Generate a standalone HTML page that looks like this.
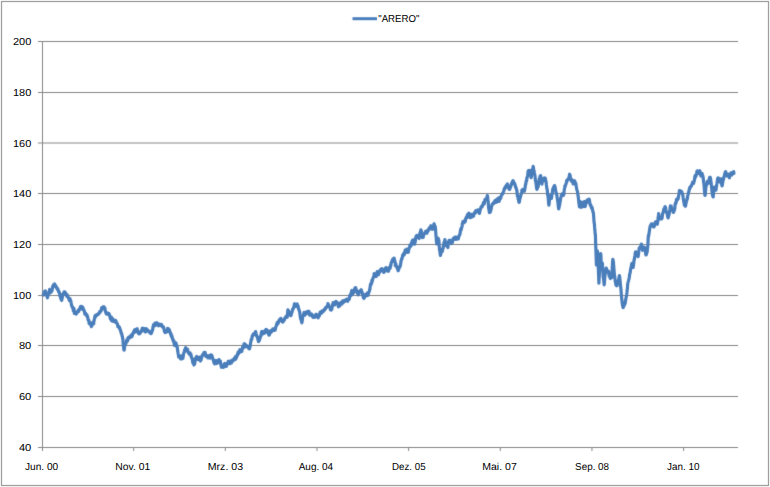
<!DOCTYPE html>
<html><head><meta charset="utf-8"><style>
html,body{margin:0;padding:0;background:#fff;}
body{width:770px;height:487px;overflow:hidden;}
svg{display:block;}
text{font-family:"Liberation Sans",Arial,sans-serif;font-size:10.1px;fill:#000;text-rendering:geometricPrecision;}
</style></head><body>
<svg width="770" height="487" viewBox="0 0 770 487">
<defs><filter id="bl" x="0" y="0" width="770" height="487" filterUnits="userSpaceOnUse" color-interpolation-filters="sRGB"><feConvolveMatrix order="3" kernelMatrix="0.0113 0.0838 0.0113 0.0838 0.6194 0.0838 0.0113 0.0838 0.0113" edgeMode="none" preserveAlpha="false"/></filter></defs>
<rect x="0" y="0" width="770" height="487" fill="#fff"/>
<g filter="url(#bl)">
<rect x="1.5" y="1.5" width="767" height="484" fill="none" stroke="#868686" stroke-width="1"/>
<g stroke="#868686" stroke-width="1" fill="none">
<line x1="38" y1="41.5" x2="738" y2="41.5"/>
<line x1="38" y1="92.5" x2="738" y2="92.5"/>
<line x1="38" y1="143.0" x2="738" y2="143.0"/>
<line x1="38" y1="193.5" x2="738" y2="193.5"/>
<line x1="38" y1="244.5" x2="738" y2="244.5"/>
<line x1="38" y1="295.5" x2="738" y2="295.5"/>
<line x1="38" y1="345.5" x2="738" y2="345.5"/>
<line x1="38" y1="396.5" x2="738" y2="396.5"/>
<line x1="38" y1="447.5" x2="738" y2="447.5"/>
<line x1="42.5" y1="41" x2="42.5" y2="451"/>
<line x1="133.66" y1="447" x2="133.66" y2="451"/>
<line x1="225.32" y1="447" x2="225.32" y2="451"/>
<line x1="316.98" y1="447" x2="316.98" y2="451"/>
<line x1="408.64" y1="447" x2="408.64" y2="451"/>
<line x1="500.30" y1="447" x2="500.30" y2="451"/>
<line x1="591.96" y1="447" x2="591.96" y2="451"/>
<line x1="683.62" y1="447" x2="683.62" y2="451"/>
</g>
</g>
<g>
<text x="31.30" y="45.3" text-anchor="end" textLength="18.3" lengthAdjust="spacingAndGlyphs">200</text>
<text x="31.30" y="96.3" text-anchor="end" textLength="18.3" lengthAdjust="spacingAndGlyphs">180</text>
<text x="31.30" y="146.8" text-anchor="end" textLength="18.3" lengthAdjust="spacingAndGlyphs">160</text>
<text x="31.30" y="197.3" text-anchor="end" textLength="18.3" lengthAdjust="spacingAndGlyphs">140</text>
<text x="31.30" y="248.3" text-anchor="end" textLength="18.3" lengthAdjust="spacingAndGlyphs">120</text>
<text x="31.30" y="299.3" text-anchor="end" textLength="18.3" lengthAdjust="spacingAndGlyphs">100</text>
<text x="31.30" y="349.3" text-anchor="end" textLength="12.4" lengthAdjust="spacingAndGlyphs">80</text>
<text x="31.30" y="400.3" text-anchor="end" textLength="12.4" lengthAdjust="spacingAndGlyphs">60</text>
<text x="31.30" y="451.3" text-anchor="end" textLength="12.4" lengthAdjust="spacingAndGlyphs">40</text>
<text x="41.6" y="469.7" text-anchor="middle" textLength="33.2" lengthAdjust="spacingAndGlyphs">Jun. 00</text>
<text x="132.8" y="469.7" text-anchor="middle" textLength="34.9" lengthAdjust="spacingAndGlyphs">Nov. 01</text>
<text x="225.4" y="469.7" text-anchor="middle" textLength="35.3" lengthAdjust="spacingAndGlyphs">Mrz. 03</text>
<text x="315.9" y="469.7" text-anchor="middle" textLength="34.4" lengthAdjust="spacingAndGlyphs">Aug. 04</text>
<text x="408.8" y="469.7" text-anchor="middle" textLength="33.5" lengthAdjust="spacingAndGlyphs">Dez. 05</text>
<text x="499.5" y="469.7" text-anchor="middle" textLength="34.5" lengthAdjust="spacingAndGlyphs">Mai. 07</text>
<text x="592.1" y="469.7" text-anchor="middle" textLength="34.0" lengthAdjust="spacingAndGlyphs">Sep. 08</text>
<text x="683.2" y="469.7" text-anchor="middle" textLength="32.4" lengthAdjust="spacingAndGlyphs">Jan. 10</text>
<text x="378.30" y="21.9" textLength="41.0" lengthAdjust="spacingAndGlyphs">"ARERO"</text>
</g>
<g filter="url(#bl)">
<line x1="352.5" y1="18.7" x2="377" y2="18.7" stroke="#4A7EBB" stroke-width="3"/>
<polyline points="43.40,295.0 43.65,294.9 43.90,294.1 44.15,291.9 44.40,292.4 44.65,292.2 44.90,291.1 45.15,291.3 45.40,291.0 45.65,291.5 45.90,292.2 46.15,293.5 46.40,293.6 46.65,294.7 46.90,295.6 47.15,296.9 47.40,297.8 47.65,297.0 47.90,295.9 48.15,295.0 48.40,294.4 48.65,293.5 48.90,294.0 49.15,293.6 49.40,290.4 49.65,289.4 49.90,290.2 50.15,290.3 50.40,290.7 50.65,290.8 50.90,292.3 51.15,290.3 51.40,289.8 51.65,291.4 51.90,290.7 52.15,290.0 52.40,288.5 52.65,286.5 52.90,286.8 53.15,286.6 53.40,285.1 53.65,284.7 53.90,284.8 54.15,284.3 54.40,284.0 54.65,284.1 54.90,284.6 55.15,284.7 55.40,285.7 55.65,286.8 55.90,287.0 56.15,286.4 56.40,287.6 56.65,287.4 56.90,288.7 57.15,287.9 57.40,289.5 57.65,289.8 57.90,289.3 58.15,290.0 58.40,291.0 58.65,291.9 58.90,291.7 59.15,291.8 59.40,293.3 59.65,293.9 59.90,295.2 60.15,296.7 60.40,295.8 60.65,297.3 60.90,299.0 61.15,299.2 61.40,299.8 61.65,300.3 61.90,299.2 62.15,298.4 62.40,296.8 62.65,294.3 62.90,293.9 63.15,293.7 63.40,294.4 63.65,294.2 63.90,292.4 64.15,291.8 64.40,293.0 64.65,293.4 64.90,292.3 65.15,292.2 65.40,292.7 65.65,293.5 65.90,294.4 66.15,294.7 66.40,294.8 66.65,294.9 66.90,296.4 67.15,294.6 67.40,295.7 67.65,296.7 67.90,296.1 68.15,297.3 68.40,297.3 68.65,298.7 68.90,298.7 69.15,299.5 69.40,300.5 69.65,300.5 69.90,299.6 70.15,298.8 70.40,301.2 70.65,301.0 70.90,301.1 71.15,303.0 71.40,304.4 71.65,305.8 71.90,306.2 72.15,306.7 72.40,306.7 72.65,308.0 72.90,307.7 73.15,309.3 73.40,311.0 73.65,309.6 73.90,308.4 74.15,310.6 74.40,313.5 74.65,312.3 74.90,311.8 75.15,313.3 75.40,313.1 75.65,313.5 75.90,313.5 76.15,314.1 76.40,313.4 76.65,313.6 76.90,313.1 77.15,312.3 77.40,312.1 77.65,311.4 77.90,311.7 78.15,310.9 78.40,310.1 78.65,311.4 78.90,310.6 79.15,309.9 79.40,309.8 79.65,308.6 79.90,308.0 80.15,307.8 80.40,307.2 80.65,306.5 80.90,306.7 81.15,306.8 81.40,306.5 81.65,306.4 81.90,306.9 82.15,309.1 82.40,308.0 82.65,308.7 82.90,307.3 83.15,308.5 83.40,310.0 83.65,310.0 83.90,309.9 84.15,310.8 84.40,311.8 84.65,312.5 84.90,314.2 85.15,313.8 85.40,313.1 85.65,313.4 85.90,313.8 86.15,314.4 86.40,314.9 86.65,315.6 86.90,314.8 87.15,316.7 87.40,316.8 87.65,316.7 87.90,318.4 88.15,320.1 88.40,320.6 88.65,320.8 88.90,320.4 89.15,323.6 89.40,323.8 89.65,322.5 89.90,322.5 90.15,323.4 90.40,322.8 90.65,324.3 90.90,325.0 91.15,326.2 91.40,326.6 91.65,326.1 91.90,325.4 92.15,324.1 92.40,324.6 92.65,324.2 92.90,324.0 93.15,322.2 93.40,323.5 93.65,323.9 93.90,321.0 94.15,320.4 94.40,318.8 94.65,318.1 94.90,316.3 95.15,317.5 95.40,315.4 95.65,315.4 95.90,316.0 96.15,315.4 96.40,315.5 96.65,315.3 96.90,315.4 97.15,314.4 97.40,314.3 97.65,314.3 97.90,314.0 98.15,314.0 98.40,313.6 98.65,314.1 98.90,313.4 99.15,313.1 99.40,312.5 99.65,312.2 99.90,311.3 100.15,312.3 100.40,311.3 100.65,310.8 100.90,311.1 101.15,310.9 101.40,309.9 101.65,307.8 101.90,308.6 102.15,308.8 102.40,307.4 102.65,308.4 102.90,307.5 103.15,306.8 103.40,307.6 103.65,307.8 103.90,308.2 104.15,306.9 104.40,309.2 104.65,308.5 104.90,308.1 105.15,310.2 105.40,310.8 105.65,312.1 105.90,312.7 106.15,313.4 106.40,313.8 106.65,313.2 106.90,314.1 107.15,313.6 107.40,313.1 107.65,313.6 107.90,314.2 108.15,314.0 108.40,313.4 108.65,314.5 108.90,313.5 109.15,314.0 109.40,315.4 109.65,315.2 109.90,316.6 110.15,317.5 110.40,319.0 110.65,318.2 110.90,318.1 111.15,318.9 111.40,317.1 111.65,320.9 111.90,319.8 112.15,319.3 112.40,320.4 112.65,320.3 112.90,318.9 113.15,320.3 113.40,321.3 113.65,320.8 113.90,320.8 114.15,321.5 114.40,320.8 114.65,321.6 114.90,321.9 115.15,321.3 115.40,320.4 115.65,321.0 115.90,320.8 116.15,322.3 116.40,322.4 116.65,323.1 116.90,323.4 117.15,324.0 117.40,323.7 117.65,325.1 117.90,326.9 118.15,326.5 118.40,326.3 118.65,326.6 118.90,326.6 119.15,326.7 119.40,327.5 119.65,327.8 119.90,329.5 120.15,329.3 120.40,329.9 120.65,331.3 120.90,331.4 121.15,333.4 121.40,333.1 121.65,333.5 121.90,334.7 122.15,336.2 122.40,336.5 122.65,338.4 122.90,339.5 123.15,343.7 123.40,345.7 123.65,347.7 123.90,350.0 124.15,350.1 124.40,348.6 124.65,346.7 124.90,344.8 125.15,343.9 125.40,343.1 125.65,343.7 125.90,343.8 126.15,342.6 126.40,342.1 126.65,340.1 126.90,340.4 127.15,339.9 127.40,340.0 127.65,340.9 127.90,338.0 128.15,338.6 128.40,337.6 128.65,338.4 128.90,337.1 129.15,337.0 129.40,337.4 129.65,337.8 129.90,337.5 130.15,336.6 130.40,336.2 130.65,337.1 130.90,336.7 131.15,335.0 131.40,336.2 131.65,336.3 131.90,336.7 132.15,335.5 132.40,335.6 132.65,333.7 132.90,333.9 133.15,332.8 133.40,332.9 133.65,333.0 133.90,331.3 134.15,330.7 134.40,330.2 134.65,331.1 134.90,331.2 135.15,329.6 135.40,330.1 135.65,330.6 135.90,331.9 136.15,329.4 136.40,329.1 136.65,330.5 136.90,328.9 137.15,328.7 137.40,330.2 137.65,331.6 137.90,331.1 138.15,332.1 138.40,332.5 138.65,333.6 138.90,333.4 139.15,333.8 139.40,333.9 139.65,333.4 139.90,332.9 140.15,333.2 140.40,333.1 140.65,331.6 140.90,331.8 141.15,331.8 141.40,330.9 141.65,330.3 141.90,329.9 142.15,328.4 142.40,329.0 142.65,329.2 142.90,328.3 143.15,329.3 143.40,328.3 143.65,328.5 143.90,328.8 144.15,331.0 144.40,329.3 144.65,330.3 144.90,331.2 145.15,331.3 145.40,332.1 145.65,330.6 145.90,328.7 146.15,330.3 146.40,329.4 146.65,329.7 146.90,329.1 147.15,330.6 147.40,331.1 147.65,330.1 147.90,330.9 148.15,330.8 148.40,330.7 148.65,330.9 148.90,331.0 149.15,331.8 149.40,332.1 149.65,331.8 149.90,332.9 150.15,332.2 150.40,332.8 150.65,332.8 150.90,333.6 151.15,332.2 151.40,333.2 151.65,332.4 151.90,331.5 152.15,330.5 152.40,330.7 152.65,329.6 152.90,327.7 153.15,326.2 153.40,325.4 153.65,324.6 153.90,325.5 154.15,326.0 154.40,325.5 154.65,324.6 154.90,323.2 155.15,323.1 155.40,323.8 155.65,325.3 155.90,325.0 156.15,323.9 156.40,323.7 156.65,323.2 156.90,322.8 157.15,323.1 157.40,323.5 157.65,325.1 157.90,324.4 158.15,325.1 158.40,325.8 158.65,324.8 158.90,325.5 159.15,325.1 159.40,324.1 159.65,324.4 159.90,324.4 160.15,324.4 160.40,324.5 160.65,325.0 160.90,325.6 161.15,324.9 161.40,325.4 161.65,324.5 161.90,325.6 162.15,326.5 162.40,326.7 162.65,326.9 162.90,327.4 163.15,326.7 163.40,326.8 163.65,327.6 163.90,328.9 164.15,329.3 164.40,331.6 164.65,330.8 164.90,331.6 165.15,332.5 165.40,332.1 165.65,331.7 165.90,331.0 166.15,331.4 166.40,332.2 166.65,331.8 166.90,331.3 167.15,330.4 167.40,330.6 167.65,328.3 167.90,328.9 168.15,329.3 168.40,328.7 168.65,331.5 168.90,330.1 169.15,329.8 169.40,329.8 169.65,331.8 169.90,331.4 170.15,332.6 170.40,333.7 170.65,334.2 170.90,333.6 171.15,334.1 171.40,336.6 171.65,335.7 171.90,336.0 172.15,337.0 172.40,338.6 172.65,339.2 172.90,340.2 173.15,339.5 173.40,341.2 173.65,342.0 173.90,340.9 174.15,343.2 174.40,345.3 174.65,343.9 174.90,344.0 175.15,345.3 175.40,343.8 175.65,342.8 175.90,343.0 176.15,343.9 176.40,344.5 176.65,346.0 176.90,347.0 177.15,346.7 177.40,348.3 177.65,350.6 177.90,352.0 178.15,353.8 178.40,354.9 178.65,357.1 178.90,356.6 179.15,356.7 179.40,355.7 179.65,355.9 179.90,355.8 180.15,356.0 180.40,357.5 180.65,358.9 180.90,359.1 181.15,357.9 181.40,356.7 181.65,355.8 181.90,355.8 182.15,357.1 182.40,358.1 182.65,358.6 182.90,358.3 183.15,356.7 183.40,354.6 183.65,353.5 183.90,352.9 184.15,352.5 184.40,350.8 184.65,350.2 184.90,349.4 185.15,349.6 185.40,348.5 185.65,347.6 185.90,347.9 186.15,349.1 186.40,349.9 186.65,350.9 186.90,350.9 187.15,349.4 187.40,349.1 187.65,349.7 187.90,350.9 188.15,351.9 188.40,352.9 188.65,352.7 188.90,353.7 189.15,353.4 189.40,353.0 189.65,354.4 189.90,354.1 190.15,352.8 190.40,353.8 190.65,355.6 190.90,354.2 191.15,356.1 191.40,357.3 191.65,357.4 191.90,357.7 192.15,359.0 192.40,359.9 192.65,362.2 192.90,362.9 193.15,362.3 193.40,363.1 193.65,364.3 193.90,365.0 194.15,364.4 194.40,363.7 194.65,363.9 194.90,362.5 195.15,360.9 195.40,358.8 195.65,358.1 195.90,359.5 196.15,357.3 196.40,357.6 196.65,356.5 196.90,357.3 197.15,358.3 197.40,357.8 197.65,358.4 197.90,358.7 198.15,358.6 198.40,359.6 198.65,359.4 198.90,358.4 199.15,357.6 199.40,357.2 199.65,358.1 199.90,357.9 200.15,360.4 200.40,361.0 200.65,359.6 200.90,358.8 201.15,359.8 201.40,357.0 201.65,356.5 201.90,357.1 202.15,355.7 202.40,355.0 202.65,354.6 202.90,354.9 203.15,354.3 203.40,353.9 203.65,353.3 203.90,352.6 204.15,353.3 204.40,353.5 204.65,353.1 204.90,352.3 205.15,352.5 205.40,353.7 205.65,355.8 205.90,356.4 206.15,356.1 206.40,355.6 206.65,355.8 206.90,356.2 207.15,356.3 207.40,355.7 207.65,356.3 207.90,357.9 208.15,356.1 208.40,356.9 208.65,355.9 208.90,357.3 209.15,356.9 209.40,355.5 209.65,356.4 209.90,358.2 210.15,357.5 210.40,357.9 210.65,357.0 210.90,354.8 211.15,355.7 211.40,355.4 211.65,355.1 211.90,355.5 212.15,356.5 212.40,357.1 212.65,358.6 212.90,358.5 213.15,360.1 213.40,360.1 213.65,361.7 213.90,361.6 214.15,363.2 214.40,363.0 214.65,363.9 214.90,362.5 215.15,362.1 215.40,363.0 215.65,360.5 215.90,360.6 216.15,362.4 216.40,362.9 216.65,363.5 216.90,362.8 217.15,363.2 217.40,362.3 217.65,361.4 217.90,360.7 218.15,361.4 218.40,361.7 218.65,361.9 218.90,359.6 219.15,359.8 219.40,361.1 219.65,362.5 219.90,362.5 220.15,362.3 220.40,361.1 220.65,364.5 220.90,363.8 221.15,366.0 221.40,367.3 221.65,366.9 221.90,366.4 222.15,366.9 222.40,367.2 222.65,367.2 222.90,366.7 223.15,366.5 223.40,366.7 223.65,367.3 223.90,365.4 224.15,365.1 224.40,363.9 224.65,363.5 224.90,363.6 225.15,363.8 225.40,365.0 225.65,365.8 225.90,366.3 226.15,366.4 226.40,366.2 226.65,365.5 226.90,364.4 227.15,364.5 227.40,364.3 227.65,362.8 227.90,363.3 228.15,361.4 228.40,361.9 228.65,361.8 228.90,361.8 229.15,361.3 229.40,362.7 229.65,363.1 229.90,363.7 230.15,363.2 230.40,361.7 230.65,361.7 230.90,361.0 231.15,362.0 231.40,363.0 231.65,362.6 231.90,361.6 232.15,361.2 232.40,361.3 232.65,359.9 232.90,360.5 233.15,360.7 233.40,360.1 233.65,359.7 233.90,359.7 234.15,358.8 234.40,358.1 234.65,358.9 234.90,358.7 235.15,359.7 235.40,358.0 235.65,356.4 235.90,357.8 236.15,358.4 236.40,357.3 236.65,356.0 236.90,356.5 237.15,355.3 237.40,355.5 237.65,353.6 237.90,353.8 238.15,352.1 238.40,352.4 238.65,353.6 238.90,352.4 239.15,352.8 239.40,351.6 239.65,350.8 239.90,349.7 240.15,351.1 240.40,350.8 240.65,351.9 240.90,350.0 241.15,349.7 241.40,349.7 241.65,350.7 241.90,351.4 242.15,349.6 242.40,348.1 242.65,346.8 242.90,348.5 243.15,348.1 243.40,347.3 243.65,347.1 243.90,344.6 244.15,343.8 244.40,345.4 244.65,345.4 244.90,345.0 245.15,344.0 245.40,345.1 245.65,346.8 245.90,345.2 246.15,345.6 246.40,345.5 246.65,346.3 246.90,346.5 247.15,346.6 247.40,346.1 247.65,346.7 247.90,346.6 248.15,347.0 248.40,347.3 248.65,348.2 248.90,347.7 249.15,347.7 249.40,349.0 249.65,348.6 249.90,347.1 250.15,346.2 250.40,344.4 250.65,342.6 250.90,341.6 251.15,339.5 251.40,339.4 251.65,339.6 251.90,338.6 252.15,336.1 252.40,336.3 252.65,335.2 252.90,335.0 253.15,335.0 253.40,333.8 253.65,335.0 253.90,334.3 254.15,334.4 254.40,334.1 254.65,334.4 254.90,334.2 255.15,332.4 255.40,333.0 255.65,331.6 255.90,332.5 256.15,334.1 256.40,335.2 256.65,336.2 256.90,335.7 257.15,336.4 257.40,336.8 257.65,338.3 257.90,339.6 258.15,338.9 258.40,341.6 258.65,340.4 258.90,340.2 259.15,340.7 259.40,340.2 259.65,339.4 259.90,337.9 260.15,338.1 260.40,336.6 260.65,336.5 260.90,336.1 261.15,333.7 261.40,332.5 261.65,331.6 261.90,332.0 262.15,331.9 262.40,332.0 262.65,331.5 262.90,332.4 263.15,333.8 263.40,332.4 263.65,332.7 263.90,333.4 264.15,332.7 264.40,332.0 264.65,333.0 264.90,332.9 265.15,332.1 265.40,330.2 265.65,331.4 265.90,330.1 266.15,329.5 266.40,329.6 266.65,329.7 266.90,332.2 267.15,332.1 267.40,332.1 267.65,330.6 267.90,332.6 268.15,332.5 268.40,333.1 268.65,334.5 268.90,335.1 269.15,335.1 269.40,334.9 269.65,333.2 269.90,332.7 270.15,331.0 270.40,331.2 270.65,332.0 270.90,330.6 271.15,332.4 271.40,331.5 271.65,330.3 271.90,330.4 272.15,331.2 272.40,329.7 272.65,330.1 272.90,329.0 273.15,330.5 273.40,330.3 273.65,329.6 273.90,330.4 274.15,328.8 274.40,328.6 274.65,330.3 274.90,329.4 275.15,330.1 275.40,329.0 275.65,327.4 275.90,326.7 276.15,326.3 276.40,325.4 276.65,324.3 276.90,323.7 277.15,322.7 277.40,323.3 277.65,323.6 277.90,323.9 278.15,321.8 278.40,322.7 278.65,322.3 278.90,320.6 279.15,320.7 279.40,320.6 279.65,319.9 279.90,319.1 280.15,319.1 280.40,319.7 280.65,319.8 280.90,318.4 281.15,318.7 281.40,319.9 281.65,320.0 281.90,321.1 282.15,321.7 282.40,321.6 282.65,322.1 282.90,322.0 283.15,321.8 283.40,321.2 283.65,320.3 283.90,320.6 284.15,319.6 284.40,320.1 284.65,318.5 284.90,318.5 285.15,317.7 285.40,317.7 285.65,317.4 285.90,316.6 286.15,317.5 286.40,316.3 286.65,315.8 286.90,316.9 287.15,317.2 287.40,315.1 287.65,312.4 287.90,309.8 288.15,310.6 288.40,311.0 288.65,311.1 288.90,312.9 289.15,313.4 289.40,314.4 289.65,314.8 289.90,314.2 290.15,313.4 290.40,313.0 290.65,315.6 290.90,315.7 291.15,315.0 291.40,313.7 291.65,313.0 291.90,312.3 292.15,311.8 292.40,309.6 292.65,310.1 292.90,309.3 293.15,308.9 293.40,308.1 293.65,307.7 293.90,306.3 294.15,306.3 294.40,303.9 294.65,303.9 294.90,306.2 295.15,305.0 295.40,305.2 295.65,306.1 295.90,305.3 296.15,306.3 296.40,305.1 296.65,304.1 296.90,304.2 297.15,304.0 297.40,305.3 297.65,305.7 297.90,306.5 298.15,305.9 298.40,308.9 298.65,308.9 298.90,309.3 299.15,310.4 299.40,310.8 299.65,311.8 299.90,313.6 300.15,315.9 300.40,317.6 300.65,319.1 300.90,319.0 301.15,319.4 301.40,321.5 301.65,321.9 301.90,322.8 302.15,321.1 302.40,319.7 302.65,317.0 302.90,316.4 303.15,316.0 303.40,315.7 303.65,313.7 303.90,314.5 304.15,312.4 304.40,313.8 304.65,314.7 304.90,315.1 305.15,313.7 305.40,314.7 305.65,313.5 305.90,312.6 306.15,312.2 306.40,312.0 306.65,312.7 306.90,313.5 307.15,311.5 307.40,311.7 307.65,312.9 307.90,312.8 308.15,313.0 308.40,311.4 308.65,312.5 308.90,311.3 309.15,312.2 309.40,313.8 309.65,315.2 309.90,314.8 310.15,315.1 310.40,314.1 310.65,313.9 310.90,315.2 311.15,315.1 311.40,315.0 311.65,314.0 311.90,315.0 312.15,316.0 312.40,315.4 312.65,315.5 312.90,317.4 313.15,317.3 313.40,317.0 313.65,316.3 313.90,316.2 314.15,316.1 314.40,317.3 314.65,316.0 314.90,317.2 315.15,315.4 315.40,314.8 315.65,315.3 315.90,314.5 316.15,314.2 316.40,314.8 316.65,315.8 316.90,314.7 317.15,315.6 317.40,316.5 317.65,317.0 317.90,317.7 318.15,317.8 318.40,317.0 318.65,316.4 318.90,316.2 319.15,315.2 319.40,315.7 319.65,313.6 319.90,314.0 320.15,312.1 320.40,311.9 320.65,312.2 320.90,313.6 321.15,313.4 321.40,312.1 321.65,312.8 321.90,311.9 322.15,310.8 322.40,311.3 322.65,311.2 322.90,311.8 323.15,310.7 323.40,310.8 323.65,310.9 323.90,310.6 324.15,310.0 324.40,309.1 324.65,309.8 324.90,309.4 325.15,309.3 325.40,308.5 325.65,308.3 325.90,307.2 326.15,307.3 326.40,307.6 326.65,307.0 326.90,307.1 327.15,306.4 327.40,306.7 327.65,305.4 327.90,303.6 328.15,304.8 328.40,305.1 328.65,304.7 328.90,306.0 329.15,306.5 329.40,307.1 329.65,306.9 329.90,307.4 330.15,308.0 330.40,309.9 330.65,309.0 330.90,309.4 331.15,310.2 331.40,309.2 331.65,307.4 331.90,309.2 332.15,306.3 332.40,306.3 332.65,304.6 332.90,303.9 333.15,302.5 333.40,302.6 333.65,303.9 333.90,302.6 334.15,303.5 334.40,303.6 334.65,304.9 334.90,303.4 335.15,303.9 335.40,303.8 335.65,302.9 335.90,301.4 336.15,303.3 336.40,302.0 336.65,302.1 336.90,303.3 337.15,304.1 337.40,302.9 337.65,303.3 337.90,303.5 338.15,304.9 338.40,306.9 338.65,304.5 338.90,305.7 339.15,303.3 339.40,304.7 339.65,303.9 339.90,305.8 340.15,305.1 340.40,303.7 340.65,303.1 340.90,302.5 341.15,302.6 341.40,302.2 341.65,302.8 341.90,303.9 342.15,303.7 342.40,302.0 342.65,300.9 342.90,301.0 343.15,302.6 343.40,302.2 343.65,301.8 343.90,302.2 344.15,301.1 344.40,300.5 344.65,301.5 344.90,301.2 345.15,300.8 345.40,301.1 345.65,300.4 345.90,299.8 346.15,299.6 346.40,300.4 346.65,300.2 346.90,299.1 347.15,299.2 347.40,299.9 347.65,301.3 347.90,299.4 348.15,299.6 348.40,299.1 348.65,299.8 348.90,299.2 349.15,299.3 349.40,298.3 349.65,296.5 349.90,295.2 350.15,295.0 350.40,294.6 350.65,295.8 350.90,295.4 351.15,292.6 351.40,292.1 351.65,291.1 351.90,290.4 352.15,292.2 352.40,293.0 352.65,292.2 352.90,294.2 353.15,293.1 353.40,292.6 353.65,292.7 353.90,292.0 354.15,290.8 354.40,289.9 354.65,289.1 354.90,288.1 355.15,288.0 355.40,287.8 355.65,287.6 355.90,288.9 356.15,289.0 356.40,290.3 356.65,291.8 356.90,291.3 357.15,291.7 357.40,293.5 357.65,293.4 357.90,294.4 358.15,294.7 358.40,294.4 358.65,293.7 358.90,292.6 359.15,291.5 359.40,292.0 359.65,292.2 359.90,291.5 360.15,291.9 360.40,290.7 360.65,290.9 360.90,290.2 361.15,289.8 361.40,290.3 361.65,291.0 361.90,293.2 362.15,292.2 362.40,293.2 362.65,295.0 362.90,295.8 363.15,296.1 363.40,297.7 363.65,298.1 363.90,298.5 364.15,298.0 364.40,296.8 364.65,294.9 364.90,296.0 365.15,296.4 365.40,296.3 365.65,295.3 365.90,295.3 366.15,294.2 366.40,295.8 366.65,295.8 366.90,295.6 367.15,293.2 367.40,294.2 367.65,295.1 367.90,295.3 368.15,294.9 368.40,293.6 368.65,292.4 368.90,292.3 369.15,291.7 369.40,291.1 369.65,289.3 369.90,289.4 370.15,286.5 370.40,285.4 370.65,283.8 370.90,284.2 371.15,284.4 371.40,283.9 371.65,283.0 371.90,280.4 372.15,281.7 372.40,280.7 372.65,279.4 372.90,278.5 373.15,277.6 373.40,277.5 373.65,277.2 373.90,276.2 374.15,273.7 374.40,274.3 374.65,275.2 374.90,275.7 375.15,275.4 375.40,275.7 375.65,276.4 375.90,275.4 376.15,276.5 376.40,274.0 376.65,273.3 376.90,273.2 377.15,271.7 377.40,272.0 377.65,273.8 377.90,274.6 378.15,274.0 378.40,274.8 378.65,273.9 378.90,272.7 379.15,272.6 379.40,272.0 379.65,272.3 379.90,270.4 380.15,271.4 380.40,270.5 380.65,270.9 380.90,269.0 381.15,269.0 381.40,269.1 381.65,269.1 381.90,268.6 382.15,269.3 382.40,270.0 382.65,270.1 382.90,271.5 383.15,271.4 383.40,272.0 383.65,272.4 383.90,272.3 384.15,271.7 384.40,270.9 384.65,270.7 384.90,270.2 385.15,268.8 385.40,268.2 385.65,269.1 385.90,270.8 386.15,267.6 386.40,268.7 386.65,268.7 386.90,269.7 387.15,270.6 387.40,270.5 387.65,269.7 387.90,269.2 388.15,268.8 388.40,271.3 388.65,270.5 388.90,269.5 389.15,268.9 389.40,267.4 389.65,267.7 389.90,268.3 390.15,268.3 390.40,265.7 390.65,266.6 390.90,265.0 391.15,262.9 391.40,262.2 391.65,261.7 391.90,261.9 392.15,260.9 392.40,259.6 392.65,259.7 392.90,261.2 393.15,259.4 393.40,259.1 393.65,258.3 393.90,259.6 394.15,258.1 394.40,260.4 394.65,260.3 394.90,261.4 395.15,262.4 395.40,266.0 395.65,264.9 395.90,263.8 396.15,266.2 396.40,265.9 396.65,266.5 396.90,267.3 397.15,268.0 397.40,268.5 397.65,269.3 397.90,269.8 398.15,270.7 398.40,270.2 398.65,269.5 398.90,268.0 399.15,268.2 399.40,267.3 399.65,266.9 399.90,266.2 400.15,266.4 400.40,264.9 400.65,264.2 400.90,261.8 401.15,260.4 401.40,260.0 401.65,258.7 401.90,259.2 402.15,257.5 402.40,257.4 402.65,255.0 402.90,254.7 403.15,255.1 403.40,255.1 403.65,253.6 403.90,254.3 404.15,255.0 404.40,254.4 404.65,252.6 404.90,251.3 405.15,250.2 405.40,251.3 405.65,252.5 405.90,251.4 406.15,249.9 406.40,250.7 406.65,251.5 406.90,249.0 407.15,250.2 407.40,252.4 407.65,252.4 407.90,252.2 408.15,252.0 408.40,252.1 408.65,250.0 408.90,248.6 409.15,248.6 409.40,247.4 409.65,247.2 409.90,245.2 410.15,246.1 410.40,246.4 410.65,245.7 410.90,245.2 411.15,245.9 411.40,243.7 411.65,242.6 411.90,241.6 412.15,241.4 412.40,240.6 412.65,240.8 412.90,240.0 413.15,239.8 413.40,239.9 413.65,242.5 413.90,243.0 414.15,243.6 414.40,244.2 414.65,243.7 414.90,242.8 415.15,241.9 415.40,240.2 415.65,238.4 415.90,236.7 416.15,236.2 416.40,238.0 416.65,236.9 416.90,235.4 417.15,235.5 417.40,235.5 417.65,236.3 417.90,235.7 418.15,236.4 418.40,236.3 418.65,236.9 418.90,237.7 419.15,238.5 419.40,237.4 419.65,234.4 419.90,233.0 420.15,232.4 420.40,232.5 420.65,231.1 420.90,229.9 421.15,230.3 421.40,231.8 421.65,233.4 421.90,234.1 422.15,235.9 422.40,237.7 422.65,236.7 422.90,236.9 423.15,237.4 423.40,236.2 423.65,235.4 423.90,234.6 424.15,233.8 424.40,233.8 424.65,233.3 424.90,233.0 425.15,232.4 425.40,231.4 425.65,231.3 425.90,232.2 426.15,231.3 426.40,231.3 426.65,233.0 426.90,233.2 427.15,231.6 427.40,231.6 427.65,230.4 427.90,231.4 428.15,229.9 428.40,229.5 428.65,230.2 428.90,228.5 429.15,229.4 429.40,227.9 429.65,228.0 429.90,227.4 430.15,227.2 430.40,227.1 430.65,226.8 430.90,225.7 431.15,226.9 431.40,227.6 431.65,228.5 431.90,229.2 432.15,227.4 432.40,228.8 432.65,229.2 432.90,227.4 433.15,227.6 433.40,227.8 433.65,226.0 433.90,224.2 434.15,223.8 434.40,226.9 434.65,226.8 434.90,225.9 435.15,226.5 435.40,227.5 435.65,230.8 435.90,234.6 436.15,237.0 436.40,241.0 436.65,243.2 436.90,243.9 437.15,242.9 437.40,242.5 437.65,240.6 437.90,239.2 438.15,238.4 438.40,239.0 438.65,239.6 438.90,240.8 439.15,244.7 439.40,248.7 439.65,250.4 439.90,251.5 440.15,253.5 440.40,255.5 440.65,254.5 440.90,253.5 441.15,252.4 441.40,251.5 441.65,250.3 441.90,249.2 442.15,251.6 442.40,251.2 442.65,249.4 442.90,248.8 443.15,248.0 443.40,246.0 443.65,245.1 443.90,243.0 444.15,242.1 444.40,242.0 444.65,241.5 444.90,239.5 445.15,241.0 445.40,242.4 445.65,243.7 445.90,243.5 446.15,244.8 446.40,245.7 446.65,244.6 446.90,243.8 447.15,245.8 447.40,245.8 447.65,247.2 447.90,247.5 448.15,244.7 448.40,242.5 448.65,241.5 448.90,241.8 449.15,240.4 449.40,241.5 449.65,241.7 449.90,241.4 450.15,240.3 450.40,241.4 450.65,242.1 450.90,241.0 451.15,243.3 451.40,242.7 451.65,243.2 451.90,242.2 452.15,242.2 452.40,242.6 452.65,240.9 452.90,239.2 453.15,239.1 453.40,238.2 453.65,238.1 453.90,238.3 454.15,238.4 454.40,239.3 454.65,237.7 454.90,237.9 455.15,237.1 455.40,238.0 455.65,239.3 455.90,238.2 456.15,239.4 456.40,238.4 456.65,237.3 456.90,237.2 457.15,237.2 457.40,237.6 457.65,237.9 457.90,239.0 458.15,239.0 458.40,238.5 458.65,237.4 458.90,236.2 459.15,235.8 459.40,235.3 459.65,234.8 459.90,234.3 460.15,233.2 460.40,230.9 460.65,229.7 460.90,228.8 461.15,230.0 461.40,228.3 461.65,227.6 461.90,227.2 462.15,225.5 462.40,223.4 462.65,222.7 462.90,221.6 463.15,221.9 463.40,222.6 463.65,222.3 463.90,222.1 464.15,221.8 464.40,222.6 464.65,220.6 464.90,220.1 465.15,220.4 465.40,221.3 465.65,218.6 465.90,218.3 466.15,218.1 466.40,217.0 466.65,217.8 466.90,217.4 467.15,216.4 467.40,214.9 467.65,214.4 467.90,214.4 468.15,215.4 468.40,214.5 468.65,213.3 468.90,213.1 469.15,213.7 469.40,215.7 469.65,217.4 469.90,215.9 470.15,216.5 470.40,217.2 470.65,217.6 470.90,216.7 471.15,215.3 471.40,215.4 471.65,214.4 471.90,215.7 472.15,216.9 472.40,214.9 472.65,215.2 472.90,215.4 473.15,216.0 473.40,216.3 473.65,215.7 473.90,214.0 474.15,213.1 474.40,213.8 474.65,212.5 474.90,212.2 475.15,213.3 475.40,212.5 475.65,210.8 475.90,210.7 476.15,211.3 476.40,210.7 476.65,211.5 476.90,211.8 477.15,210.4 477.40,210.1 477.65,210.4 477.90,209.8 478.15,210.9 478.40,211.1 478.65,212.2 478.90,211.7 479.15,211.3 479.40,213.5 479.65,212.3 479.90,211.1 480.15,210.0 480.40,209.4 480.65,208.2 480.90,207.9 481.15,206.9 481.40,206.5 481.65,206.8 481.90,207.0 482.15,206.7 482.40,205.4 482.65,205.4 482.90,204.8 483.15,204.3 483.40,202.5 483.65,203.4 483.90,202.9 484.15,203.9 484.40,203.2 484.65,201.2 484.90,199.7 485.15,200.8 485.40,199.4 485.65,199.7 485.90,198.8 486.15,200.0 486.40,198.7 486.65,198.6 486.90,197.8 487.15,196.3 487.40,195.5 487.65,196.9 487.90,199.4 488.15,201.4 488.40,204.8 488.65,208.3 488.90,209.1 489.15,211.0 489.40,212.6 489.65,212.5 489.90,211.9 490.15,212.2 490.40,211.8 490.65,210.6 490.90,210.2 491.15,208.9 491.40,207.2 491.65,206.0 491.90,205.7 492.15,204.3 492.40,204.4 492.65,204.1 492.90,203.9 493.15,203.0 493.40,202.9 493.65,202.7 493.90,203.5 494.15,202.1 494.40,201.6 494.65,201.4 494.90,201.2 495.15,200.5 495.40,200.2 495.65,201.3 495.90,200.4 496.15,201.1 496.40,202.3 496.65,202.2 496.90,199.5 497.15,200.2 497.40,200.3 497.65,200.2 497.90,198.4 498.15,199.4 498.40,198.2 498.65,199.6 498.90,200.0 499.15,201.4 499.40,199.5 499.65,197.6 499.90,198.7 500.15,199.0 500.40,197.8 500.65,198.4 500.90,197.9 501.15,195.9 501.40,195.4 501.65,194.9 501.90,194.7 502.15,194.6 502.40,193.6 502.65,193.3 502.90,193.5 503.15,192.8 503.40,192.0 503.65,191.3 503.90,190.9 504.15,188.9 504.40,189.4 504.65,188.3 504.90,188.5 505.15,187.0 505.40,188.0 505.65,187.7 505.90,186.0 506.15,186.2 506.40,185.3 506.65,186.5 506.90,185.6 507.15,184.5 507.40,184.0 507.65,184.3 507.90,185.4 508.15,186.3 508.40,187.2 508.65,186.8 508.90,188.2 509.15,189.3 509.40,189.5 509.65,189.4 509.90,188.9 510.15,187.8 510.40,187.5 510.65,186.0 510.90,185.9 511.15,185.2 511.40,184.2 511.65,184.6 511.90,182.7 512.15,182.7 512.40,181.5 512.65,182.4 512.90,181.9 513.15,180.7 513.40,181.5 513.65,182.4 513.90,183.2 514.15,183.2 514.40,182.9 514.65,183.9 514.90,184.2 515.15,185.0 515.40,186.8 515.65,187.4 515.90,187.0 516.15,188.3 516.40,189.0 516.65,190.1 516.90,190.5 517.15,193.3 517.40,196.0 517.65,195.5 517.90,197.4 518.15,198.9 518.40,199.2 518.65,200.8 518.90,202.3 519.15,202.3 519.40,201.9 519.65,200.1 519.90,198.5 520.15,198.0 520.40,197.3 520.65,196.2 520.90,195.1 521.15,194.2 521.40,193.2 521.65,193.2 521.90,190.2 522.15,191.9 522.40,190.9 522.65,189.7 522.90,190.7 523.15,189.4 523.40,190.2 523.65,189.9 523.90,190.5 524.15,190.8 524.40,191.3 524.65,190.0 524.90,188.5 525.15,187.3 525.40,184.8 525.65,184.6 525.90,183.4 526.15,181.0 526.40,181.2 526.65,180.8 526.90,177.8 527.15,177.3 527.40,177.0 527.65,175.9 527.90,173.2 528.15,170.9 528.40,170.7 528.65,170.5 528.90,170.8 529.15,170.8 529.40,171.2 529.65,170.5 529.90,170.4 530.15,174.4 530.40,174.3 530.65,175.5 530.90,176.5 531.15,177.7 531.40,176.3 531.65,174.4 531.90,172.3 532.15,170.9 532.40,170.2 532.65,168.8 532.90,168.4 533.15,166.4 533.40,167.5 533.65,170.1 533.90,170.7 534.15,171.1 534.40,172.7 534.65,174.0 534.90,175.6 535.15,177.1 535.40,180.7 535.65,181.0 535.90,182.5 536.15,184.3 536.40,186.8 536.65,188.4 536.90,189.4 537.15,188.9 537.40,188.2 537.65,186.5 537.90,187.2 538.15,186.6 538.40,185.2 538.65,183.3 538.90,181.3 539.15,178.9 539.40,178.8 539.65,178.0 539.90,177.0 540.15,176.0 540.40,175.8 540.65,175.7 540.90,178.9 541.15,180.5 541.40,181.6 541.65,183.3 541.90,184.1 542.15,182.7 542.40,181.7 542.65,180.9 542.90,180.3 543.15,179.4 543.40,178.8 543.65,179.1 543.90,178.0 544.15,178.0 544.40,178.7 544.65,178.6 544.90,177.9 545.15,178.2 545.40,178.4 545.65,181.7 545.90,181.0 546.15,182.3 546.40,184.9 546.65,186.9 546.90,188.9 547.15,189.3 547.40,191.3 547.65,195.1 547.90,195.1 548.15,197.3 548.40,200.3 548.65,203.8 548.90,205.1 549.15,203.3 549.40,200.5 549.65,197.3 549.90,195.6 550.15,195.4 550.40,197.1 550.65,197.6 550.90,197.0 551.15,198.0 551.40,198.4 551.65,196.8 551.90,194.8 552.15,194.0 552.40,192.1 552.65,189.3 552.90,189.9 553.15,188.1 553.40,187.6 553.65,187.2 553.90,186.7 554.15,186.3 554.40,185.6 554.65,185.6 554.90,186.4 555.15,187.4 555.40,189.0 555.65,190.5 555.90,191.9 556.15,193.4 556.40,194.1 556.65,193.7 556.90,195.8 557.15,197.6 557.40,199.3 557.65,200.5 557.90,201.9 558.15,204.8 558.40,207.0 558.65,208.8 558.90,208.2 559.15,206.9 559.40,205.4 559.65,204.7 559.90,203.3 560.15,201.4 560.40,200.5 560.65,198.0 560.90,197.4 561.15,196.7 561.40,195.1 561.65,195.1 561.90,194.7 562.15,193.9 562.40,194.0 562.65,194.8 562.90,195.5 563.15,194.3 563.40,194.7 563.65,195.1 563.90,193.2 564.15,190.9 564.40,189.1 564.65,187.8 564.90,185.9 565.15,186.8 565.40,184.9 565.65,184.6 565.90,183.9 566.15,183.6 566.40,182.3 566.65,180.5 566.90,181.7 567.15,180.6 567.40,179.9 567.65,179.4 567.90,179.8 568.15,179.3 568.40,179.1 568.65,178.5 568.90,177.4 569.15,176.7 569.40,175.2 569.65,174.2 569.90,175.2 570.15,175.3 570.40,178.5 570.65,179.4 570.90,179.8 571.15,179.0 571.40,181.2 571.65,179.6 571.90,179.6 572.15,180.3 572.40,180.9 572.65,182.3 572.90,182.5 573.15,183.9 573.40,183.7 573.65,183.7 573.90,182.9 574.15,181.9 574.40,181.2 574.65,180.8 574.90,181.4 575.15,182.5 575.40,184.2 575.65,183.4 575.90,183.6 576.15,186.4 576.40,187.0 576.65,189.0 576.90,189.8 577.15,190.5 577.40,191.1 577.65,193.3 577.90,194.6 578.15,196.2 578.40,198.0 578.65,200.7 578.90,202.9 579.15,204.5 579.40,206.8 579.65,205.1 579.90,203.8 580.15,202.0 580.40,201.7 580.65,203.5 580.90,205.6 581.15,207.3 581.40,205.9 581.65,205.1 581.90,204.1 582.15,202.3 582.40,202.3 582.65,203.9 582.90,205.8 583.15,206.7 583.40,205.7 583.65,204.9 583.90,203.3 584.15,202.5 584.40,201.6 584.65,203.3 584.90,205.1 585.15,206.6 585.40,205.7 585.65,204.3 585.90,202.7 586.15,201.2 586.40,202.3 586.65,202.8 586.90,201.9 587.15,200.4 587.40,199.8 587.65,200.9 587.90,201.7 588.15,200.7 588.40,200.3 588.65,200.0 588.90,200.3 589.15,199.0 589.40,200.3 589.65,201.6 589.90,203.6 590.15,204.9 590.40,205.0 590.65,205.6 590.90,205.2 591.15,206.5 591.40,207.5 591.65,208.4 591.90,207.8 592.15,207.6 592.40,209.9 592.65,210.1 592.90,211.7 593.15,212.6 593.40,212.8 593.65,216.1 593.90,220.3 594.15,222.8 594.40,223.9 594.65,227.9 594.90,230.5 595.15,233.9 595.40,234.7 595.65,243.1 595.90,250.3 596.15,257.7 596.40,265.0 596.65,264.6 596.90,259.2 597.15,255.1 597.40,250.8 597.65,255.0 597.90,258.6 598.15,264.6 598.40,270.7 598.65,276.9 598.90,283.1 599.15,277.8 599.40,272.9 599.65,268.2 599.90,264.6 600.15,260.0 600.40,255.8 600.65,253.5 600.90,254.9 601.15,261.5 601.40,268.0 601.65,268.9 601.90,265.8 602.15,263.2 602.40,263.2 602.65,267.8 602.90,272.8 603.15,277.0 603.40,277.9 603.65,279.9 603.90,282.4 604.15,284.9 604.40,282.7 604.65,279.3 604.90,275.6 605.15,273.8 605.40,272.8 605.65,271.4 605.90,269.5 606.15,268.0 606.40,268.5 606.65,269.3 606.90,270.2 607.15,272.1 607.40,271.9 607.65,270.8 607.90,271.1 608.15,271.3 608.40,271.1 608.65,271.7 608.90,274.1 609.15,276.0 609.40,276.3 609.65,276.4 609.90,277.1 610.15,278.2 610.40,278.5 610.65,277.9 610.90,276.7 611.15,276.4 611.40,276.4 611.65,277.6 611.90,273.4 612.15,270.0 612.40,265.1 612.65,261.1 612.90,259.3 613.15,261.0 613.40,261.9 613.65,265.1 613.90,268.6 614.15,271.3 614.40,274.7 614.65,275.8 614.90,278.3 615.15,280.8 615.40,282.0 615.65,283.1 615.90,284.8 616.15,285.3 616.40,284.2 616.65,285.5 616.90,285.8 617.15,284.6 617.40,284.6 617.65,283.9 617.90,283.1 618.15,281.3 618.40,281.1 618.65,278.9 618.90,277.9 619.15,276.5 619.40,275.6 619.65,276.7 619.90,279.0 620.15,281.5 620.40,284.3 620.65,286.8 620.90,288.5 621.15,292.1 621.40,295.4 621.65,297.8 621.90,300.4 622.15,302.7 622.40,304.4 622.65,305.7 622.90,306.9 623.15,307.6 623.40,306.9 623.65,306.4 623.90,304.7 624.15,305.6 624.40,304.2 624.65,303.6 624.90,303.9 625.15,303.5 625.40,301.0 625.65,300.2 625.90,298.3 626.15,297.4 626.40,295.7 626.65,294.6 626.90,292.9 627.15,290.1 627.40,288.6 627.65,284.3 627.90,283.1 628.15,281.6 628.40,281.1 628.65,280.0 628.90,279.2 629.15,278.1 629.40,276.6 629.65,274.2 629.90,273.5 630.15,272.8 630.40,270.9 630.65,269.2 630.90,267.7 631.15,267.7 631.40,265.8 631.65,264.1 631.90,263.5 632.15,264.2 632.40,264.7 632.65,266.5 632.90,266.8 633.15,267.4 633.40,265.8 633.65,264.1 633.90,261.5 634.15,259.3 634.40,259.4 634.65,256.8 634.90,255.8 635.15,254.1 635.40,252.2 635.65,252.9 635.90,251.9 636.15,252.3 636.40,253.7 636.65,253.1 636.90,255.4 637.15,255.0 637.40,255.5 637.65,255.7 637.90,256.6 638.15,256.6 638.40,254.7 638.65,252.3 638.90,251.5 639.15,248.2 639.40,248.5 639.65,248.4 639.90,248.4 640.15,246.9 640.40,247.7 640.65,247.3 640.90,246.1 641.15,245.1 641.40,244.1 641.65,244.8 641.90,246.1 642.15,247.9 642.40,249.4 642.65,250.3 642.90,248.9 643.15,248.2 643.40,247.6 643.65,248.2 643.90,247.7 644.15,247.6 644.40,247.1 644.65,248.1 644.90,248.5 645.15,249.6 645.40,251.7 645.65,253.7 645.90,255.0 646.15,255.0 646.40,254.4 646.65,253.2 646.90,251.5 647.15,252.0 647.40,249.2 647.65,247.5 647.90,244.5 648.15,238.6 648.40,235.7 648.65,236.0 648.90,234.5 649.15,232.5 649.40,230.9 649.65,229.3 649.90,227.6 650.15,226.2 650.40,226.3 650.65,226.4 650.90,224.8 651.15,224.5 651.40,223.9 651.65,225.1 651.90,224.3 652.15,223.9 652.40,224.6 652.65,224.8 652.90,225.3 653.15,226.6 653.40,226.2 653.65,226.8 653.90,226.4 654.15,226.8 654.40,225.4 654.65,224.3 654.90,223.7 655.15,222.8 655.40,221.9 655.65,221.9 655.90,221.8 656.15,222.9 656.40,221.6 656.65,223.1 656.90,224.0 657.15,224.3 657.40,223.9 657.65,222.2 657.90,221.1 658.15,217.3 658.40,215.8 658.65,213.7 658.90,215.1 659.15,216.9 659.40,217.9 659.65,218.1 659.90,218.0 660.15,217.2 660.40,218.6 660.65,218.9 660.90,217.9 661.15,217.2 661.40,217.5 661.65,218.9 661.90,218.5 662.15,217.9 662.40,215.1 662.65,213.3 662.90,213.3 663.15,212.1 663.40,211.8 663.65,209.6 663.90,209.0 664.15,208.7 664.40,208.1 664.65,207.6 664.90,206.8 665.15,206.7 665.40,207.5 665.65,208.0 665.90,209.8 666.15,210.8 666.40,212.3 666.65,212.8 666.90,213.0 667.15,213.7 667.40,215.3 667.65,216.6 667.90,217.5 668.15,217.9 668.40,217.0 668.65,215.8 668.90,215.1 669.15,214.3 669.40,212.5 669.65,210.9 669.90,209.4 670.15,207.6 670.40,205.9 670.65,207.0 670.90,206.0 671.15,206.0 671.40,208.0 671.65,208.8 671.90,208.6 672.15,209.6 672.40,209.3 672.65,210.1 672.90,211.5 673.15,212.0 673.40,212.4 673.65,211.8 673.90,211.5 674.15,210.5 674.40,209.2 674.65,209.5 674.90,207.0 675.15,204.2 675.40,203.2 675.65,203.8 675.90,202.8 676.15,202.5 676.40,199.6 676.65,199.3 676.90,200.4 677.15,199.4 677.40,199.9 677.65,199.2 677.90,198.5 678.15,198.9 678.40,197.0 678.65,195.6 678.90,194.5 679.15,193.5 679.40,190.7 679.65,191.4 679.90,191.4 680.15,191.1 680.40,191.6 680.65,191.0 680.90,192.0 681.15,191.6 681.40,191.9 681.65,191.6 681.90,192.3 682.15,193.6 682.40,193.6 682.65,194.3 682.90,195.5 683.15,198.0 683.40,199.5 683.65,201.1 683.90,202.0 684.15,203.6 684.40,205.4 684.65,205.1 684.90,205.5 685.15,205.9 685.40,206.2 685.65,205.5 685.90,203.9 686.15,202.7 686.40,201.3 686.65,201.1 686.90,199.2 687.15,198.2 687.40,198.8 687.65,196.0 687.90,195.2 688.15,194.2 688.40,193.2 688.65,191.8 688.90,191.8 689.15,190.0 689.40,188.6 689.65,188.9 689.90,187.3 690.15,187.7 690.40,187.4 690.65,186.4 690.90,185.9 691.15,185.7 691.40,185.9 691.65,185.1 691.90,184.8 692.15,183.6 692.40,183.8 692.65,182.0 692.90,182.4 693.15,181.9 693.40,183.4 693.65,183.2 693.90,181.6 694.15,181.4 694.40,180.5 694.65,178.5 694.90,176.2 695.15,177.6 695.40,177.4 695.65,175.0 695.90,175.6 696.15,175.8 696.40,174.2 696.65,174.0 696.90,171.4 697.15,170.9 697.40,170.9 697.65,172.0 697.90,172.5 698.15,172.8 698.40,173.4 698.65,172.7 698.90,173.4 699.15,172.1 699.40,172.1 699.65,171.2 699.90,170.8 700.15,172.2 700.40,173.2 700.65,174.9 700.90,176.0 701.15,175.1 701.40,175.3 701.65,175.1 701.90,174.3 702.15,173.6 702.40,175.1 702.65,175.8 702.90,175.9 703.15,177.5 703.40,180.0 703.65,182.5 703.90,183.7 704.15,186.3 704.40,190.2 704.65,192.5 704.90,195.4 705.15,195.3 705.40,193.2 705.65,190.5 705.90,186.7 706.15,186.6 706.40,184.8 706.65,184.6 706.90,183.3 707.15,181.6 707.40,183.5 707.65,183.0 707.90,183.4 708.15,183.4 708.40,182.0 708.65,181.1 708.90,179.7 709.15,179.5 709.40,178.5 709.65,177.3 709.90,178.1 710.15,177.3 710.40,177.8 710.65,179.0 710.90,181.7 711.15,182.7 711.40,186.1 711.65,187.8 711.90,190.8 712.15,192.9 712.40,194.4 712.65,195.6 712.90,196.6 713.15,197.0 713.40,194.4 713.65,191.3 713.90,190.2 714.15,189.3 714.40,187.2 714.65,188.5 714.90,187.3 715.15,188.6 715.40,189.4 715.65,190.2 715.90,190.2 716.15,188.3 716.40,186.8 716.65,185.2 716.90,183.8 717.15,182.1 717.40,180.2 717.65,178.6 717.90,179.3 718.15,177.9 718.40,178.0 718.65,178.5 718.90,178.9 719.15,179.9 719.40,180.8 719.65,180.7 719.90,180.9 720.15,182.1 720.40,180.2 720.65,179.7 720.90,178.9 721.15,181.7 721.40,182.0 721.65,184.0 721.90,185.9 722.15,185.7 722.40,184.5 722.65,183.0 722.90,181.0 723.15,180.3 723.40,179.8 723.65,178.2 723.90,177.1 724.15,176.4 724.40,175.8 724.65,173.9 724.90,174.3 725.15,173.4 725.40,171.8 725.65,171.7 725.90,173.3 726.15,174.1 726.40,173.6 726.65,175.8 726.90,176.1 727.15,175.4 727.40,174.5 727.65,174.8 727.90,174.1 728.15,175.1 728.40,175.6 728.65,176.3 728.90,176.5 729.15,176.8 729.40,177.8 729.65,176.8 729.90,176.0 730.15,175.3 730.40,173.9 730.65,174.4 730.90,172.9 731.15,174.5 731.40,173.6 731.65,174.3 731.90,174.9 732.15,173.4 732.40,172.6 732.65,173.6 732.90,173.4 733.15,173.4 733.40,172.0 733.65,171.6 733.90,173.3" fill="none" stroke="#4A7EBB" stroke-width="3.2" stroke-linejoin="round" stroke-linecap="round"/>
</g>
</svg>
</body></html>
